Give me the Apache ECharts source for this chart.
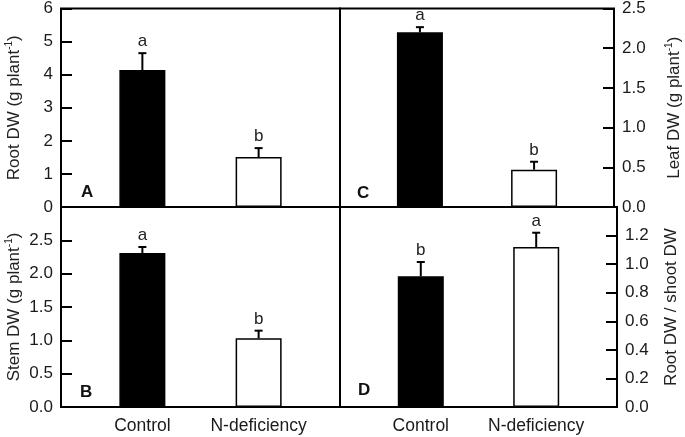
<!DOCTYPE html>
<html>
<head>
<meta charset="utf-8">
<script src="https://cdn.jsdelivr.net/npm/echarts@6/dist/echarts.min.js"></script>
<style>html,body{margin:0;padding:0;background:#fff;}#c{width:685px;height:437px;}</style>
</head>
<body>
<div id="c"></div>
<script>
const categories = ['Control', 'N-deficiency'];
const catPos = [0, 1];
// Panel A: Root DW
const rootDW = [4.14, 1.51];
const rootErr = [0.51, 0.27];
const rootLetters = ['a', 'b'];
// Panel C: Leaf DW
const leafDW = [2.20, 0.47];
const leafErr = [0.065, 0.10];
const leafLetters = ['a', 'b'];
// Panel B: Stem DW
const stemDW = [2.31, 1.03];
const stemErr = [0.09, 0.115];
const stemLetters = ['a', 'b'];
// Panel D: Root/shoot ratio
const ratio = [0.915, 1.12];
const ratioErr = [0.10, 0.10];
const ratioLetters = ['b', 'a'];

const FONT = "'Liberation Sans', Arial, sans-serif";
const TXT = '#1a1a1a';
const barColors = ['#000000', '#ffffff'];

const chart = echarts.init(document.getElementById('c'), null, {renderer: 'canvas'});

const grids = [
  {left: 61, top: 7, width: 279, height: 200},   // A
  {left: 340, top: 7, width: 277, height: 200},  // C
  {left: 61, top: 207, width: 279, height: 200}, // B
  {left: 340, top: 207, width: 277, height: 200} // D
].map(g => Object.assign({show: true, borderColor: '#000', borderWidth: 2, backgroundColor: 'transparent'}, g));

function xAxisFor(gi, showLabels) {
  return {
    type: 'value', gridIndex: gi, min: -0.7, max: 1.7,
    axisLine: {show: false, onZero: false}, axisTick: {show: false}, splitLine: {show: false},
    axisLabel: {
      show: showLabels, customValues: catPos, margin: 10,
      formatter: v => categories[Math.round(v)] || '',
      fontSize: 17.5, color: TXT, fontFamily: FONT
    }
  };
}

function yAxisFor(gi, opts) {
  return {
    type: 'value', gridIndex: gi, position: opts.position,
    min: 0, max: opts.max, interval: opts.interval,
    name: opts.name, nameLocation: 'middle', nameGap: opts.nameGap, nameRotate: 90,
    nameTextStyle: {
      fontSize: 17, color: '#222', fontFamily: FONT, lineHeight: 20,
      rich: {sup: {fontSize: 10, verticalAlign: 'top', lineHeight: 12, color: '#222', fontFamily: FONT}}
    },
    axisLine: {show: false, onZero: false},
    axisTick: {show: true, inside: true, length: 11, lineStyle: {color: '#000', width: 2}},
    splitLine: {show: false},
    axisLabel: {
      margin: 8, fontSize: 17, color: TXT, fontFamily: FONT,
      showMinLabel: opts.showMin, showMaxLabel: opts.showMax,
      formatter: v => opts.decimals ? v.toFixed(opts.decimals) : String(Math.round(v))
    }
  };
}

function barSeries(gi, values) {
  return {
    type: 'bar', xAxisIndex: gi, yAxisIndex: gi, barWidth: 46, z: 3,
    data: values.map((v, i) => ({value: [catPos[i], v], itemStyle: {color: barColors[i], borderColor: '#000', borderWidth: 1.5}})),
    silent: true, animation: false
  };
}

function errSeries(gi, values, errs, letters) {
  return {
    type: 'custom', xAxisIndex: gi, yAxisIndex: gi, z: 5, silent: true, animation: false,
    data: values.map((v, i) => [catPos[i], v, errs[i]]),
    renderItem: (params, api) => {
      const x = api.value(0), v = api.value(1), e = api.value(2);
      const b = api.coord([x, v]);
      const t = api.coord([x, v + e]);
      const cap = 4;
      return {
        type: 'group',
        children: [
          {type: 'line', shape: {x1: b[0], y1: b[1], x2: t[0], y2: t[1]}, style: {stroke: '#000', lineWidth: 2}},
          {type: 'line', shape: {x1: t[0] - cap, y1: t[1], x2: t[0] + cap, y2: t[1]}, style: {stroke: '#000', lineWidth: 2}},
          {type: 'text', x: t[0], y: t[1] - 3, style: {text: letters[params.dataIndex], fill: '#222', font: '17px ' + FONT, textAlign: 'center', textVerticalAlign: 'bottom', verticalAlign: 'bottom'}}
        ]
      };
    }
  };
}

const panelTitle = (t, left, top) => ({text: t, left: left, top: top, padding: 0, textStyle: {fontSize: 17, fontWeight: 'bold', color: '#111', fontFamily: FONT}});

chart.setOption({
  backgroundColor: '#fff',
  animation: false,
  title: [panelTitle('A', 81, 184), panelTitle('C', 357, 185), panelTitle('B', 80, 384), panelTitle('D', 358, 382)],
  grid: grids,
  xAxis: [xAxisFor(0, false), xAxisFor(1, false), xAxisFor(2, true), xAxisFor(3, true)],
  yAxis: [
    yAxisFor(0, {position: 'left', max: 6, interval: 1, name: 'Root DW (g plant{sup|-1})', nameGap: 37, showMin: true, showMax: true, decimals: 0}),
    yAxisFor(1, {position: 'right', max: 2.5, interval: 0.5, name: 'Leaf DW (g plant{sup|-1})', nameGap: 50, showMin: true, showMax: true, decimals: 1}),
    yAxisFor(2, {position: 'left', max: 3, interval: 0.5, name: 'Stem DW (g plant{sup|-1})', nameGap: 37, showMin: true, showMax: false, decimals: 1}),
    yAxisFor(3, {position: 'right', max: 1.4, interval: 0.2, name: 'Root DW / shoot DW', nameGap: 44, showMin: true, showMax: false, decimals: 1})
  ],
  series: [
    barSeries(0, rootDW), errSeries(0, rootDW, rootErr, rootLetters),
    barSeries(1, leafDW), errSeries(1, leafDW, leafErr, leafLetters),
    barSeries(2, stemDW), errSeries(2, stemDW, stemErr, stemLetters),
    barSeries(3, ratio), errSeries(3, ratio, ratioErr, ratioLetters)
  ]
});
</script>
</body>
</html>
